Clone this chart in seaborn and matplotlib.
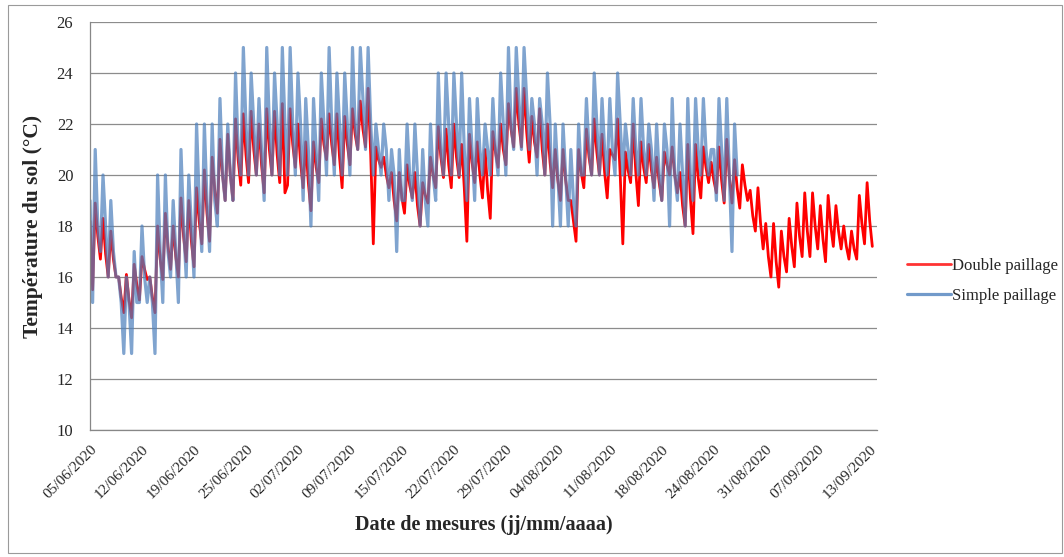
import numpy as np
import pandas as pd
import matplotlib
matplotlib.use("Agg")
import matplotlib.pyplot as plt
import seaborn as sns
from matplotlib.patches import Rectangle

# 3 relevés par jour : matin, midi, soir (jours 1..100), plus un point de départ et un de fin
tick_labels = ["05/06/2020", "12/06/2020", "19/06/2020", "25/06/2020", "02/07/2020",
               "09/07/2020", "15/07/2020", "22/07/2020", "29/07/2020", "04/08/2020",
               "11/08/2020", "18/08/2020", "24/08/2020", "31/08/2020", "07/09/2020",
               "13/09/2020"]

# Double paillage (rouge)
double_start = 18.2
double_matin = [15.5, 16.7, 16.0, 16.0, 14.6, 14.4, 15.1, 15.9, 14.6, 15.9,
                16.3, 16.0, 16.6, 16.4, 17.3, 17.4, 18.5, 19.0, 19.0, 19.6,
                19.7, 20.0, 19.3, 20.0, 19.7, 19.6, 20.3, 19.5, 18.6, 19.7,
                20.6, 20.4, 19.5, 20.4, 21.0, 21.1, 17.3, 20.3, 19.5, 18.2,
                18.5, 19.1, 18.0, 18.9, 19.5, 19.9, 19.5, 19.9, 17.4, 19.7,
                19.1, 18.3, 20.3, 20.4, 21.1, 21.1, 20.5, 20.7, 20.0, 19.5,
                19.0, 19.0, 17.4, 19.5, 20.0, 20.0, 19.1, 20.6, 17.3, 19.7,
                18.8, 19.7, 19.5, 19.0, 20.0, 19.3, 18.0, 17.7, 19.1, 19.7,
                19.3, 18.9, 18.9, 18.7, 19.0, 17.8, 17.1, 16.0, 15.6, 16.2,
                16.4, 16.8, 16.8, 17.1, 16.6, 17.2, 17.1, 16.7, 16.7, 17.3]
double_midi = [18.9, 18.3, 17.8, 16.0, 16.1, 16.5, 16.8, 16.0, 18.0, 18.5,
               18.0, 19.1, 19.0, 19.5, 20.2, 20.7, 21.4, 21.6, 22.2, 22.4,
               22.5, 22.0, 22.6, 22.5, 22.8, 22.6, 22.0, 21.3, 21.3, 22.2,
               22.4, 22.4, 22.3, 22.6, 22.9, 23.4, 21.1, 20.7, 20.1, 20.1,
               20.4, 20.1, 19.7, 20.7, 21.9, 21.8, 22.0, 21.2, 21.6, 21.3,
               21.0, 21.7, 22.0, 22.8, 23.4, 23.4, 22.3, 22.6, 22.0, 21.0,
               21.0, 19.0, 21.0, 21.8, 22.2, 21.6, 21.0, 22.2, 20.9, 22.0,
               21.3, 21.2, 20.7, 20.9, 21.1, 20.1, 21.2, 21.2, 21.1, 20.5,
               21.1, 21.4, 20.6, 20.4, 19.4, 19.5, 18.1, 18.1, 17.8, 18.3,
               18.9, 19.3, 19.3, 18.8, 19.2, 18.8, 18.0, 17.8, 19.2, 19.7]
double_soir = [17.6, 16.9, 16.7, 15.2, 15.1, 15.7, 16.3, 15.2, 16.7, 17.2,
               16.8, 17.6, 17.4, 18.2, 18.5, 19.4, 20.0, 20.0, 20.6, 20.8,
               21.0, 20.4, 21.0, 20.8, 19.3, 21.2, 20.5, 19.7, 20.3, 21.2,
               21.2, 20.7, 21.2, 21.6, 21.8, 20.8, 20.6, 20.0, 19.0, 19.1,
               19.6, 18.8, 19.2, 20.0, 20.7, 20.4, 20.7, 19.5, 20.5, 20.0,
               19.4, 20.9, 21.0, 21.8, 22.0, 21.7, 21.3, 21.0, 20.5, 19.8,
               19.8, 18.2, 20.1, 20.7, 20.9, 20.1, 20.8, 20.0, 20.2, 20.1,
               20.3, 20.2, 19.7, 20.4, 20.0, 18.8, 19.1, 19.9, 20.3, 19.8,
               19.8, 19.9, 19.5, 19.6, 18.4, 18.1, 16.8, 16.6, 16.8, 17.2,
               17.6, 17.8, 18.0, 17.5, 18.0, 17.8, 17.2, 17.1, 18.1, 18.2]
double_end = 17.2

# Simple paillage (bleu), jours 1..83
simple_start = 19
simple_matin = [15, 17, 16, 16, 13, 13, 15, 15, 13, 15,
                16, 15, 16, 16, 17, 17, 18, 19, 19, 20,
                20, 20, 19, 20, 20, 20, 20, 19, 18, 19,
                20, 20, 20, 20, 21, 21, 20, 20, 19, 17,
                19, 19, 18, 18, 19, 20, 20, 20, 19, 19,
                20, 20, 20, 20, 21, 21, 21, 20, 20, 18,
                18, 18, 18, 20, 20, 20, 20, 20, 20, 20,
                20, 20, 19, 19, 18, 19, 18, 19, 20, 20,
                19, 19, 17]
simple_midi = [21, 20, 19, 16, 16, 17, 18, 16, 20, 20,
               19, 21, 20, 22, 22, 22, 23, 22, 24, 25,
               24, 23, 25, 24, 25, 25, 24, 23, 23, 24,
               25, 24, 24, 25, 25, 25, 22, 22, 21, 21,
               22, 22, 21, 22, 24, 24, 24, 24, 23, 23,
               22, 23, 24, 25, 25, 25, 23, 23, 24, 22,
               22, 21, 22, 23, 24, 23, 23, 24, 22, 23,
               23, 22, 22, 22, 23, 22, 23, 23, 23, 21,
               23, 23, 22]
simple_soir = [18, 18, 17, 15, 15, 15, 16, 15, 17, 17,
               17, 18, 18, 19, 19, 19, 20, 20, 21, 22,
               22, 21, 22, 22, 22, 22, 22, 21, 21, 22,
               22, 22, 22, 22, 23, 22, 21, 21, 20, 19,
               20, 20, 19, 20, 21, 22, 22, 21, 21, 21,
               21, 21, 22, 22, 23, 23, 22, 22, 22, 20,
               20, 19, 20, 21, 22, 21, 21, 22, 21, 21,
               21, 21, 20, 21, 20, 20, 20, 21, 21, 21,
               21, 20, 20]


def build(start, matin, midi, soir, end=None):
    vals = [start]
    for m, n, s in zip(matin, midi, soir):
        vals += [m, n, s]
    if end is not None:
        vals.append(end)
    return pd.DataFrame({"idx": np.arange(len(vals)), "temp": vals})


df_double = build(double_start, double_matin, double_midi, double_soir, double_end)
df_simple = build(simple_start, simple_matin, simple_midi, simple_soir)

sns.set_style("white")
plt.rcParams["font.family"] = ["Liberation Serif", "DejaVu Serif"]

fig = plt.figure(figsize=(10.64, 5.57), dpi=100)
ax = fig.add_axes([0.0846, 0.228, 0.7394, 0.7325])

sns.lineplot(data=df_double, x="idx", y="temp", ax=ax, color="#FF0000",
             linewidth=2.0, label="Double paillage")
sns.lineplot(data=df_simple, x="idx", y="temp", ax=ax, color="#4F81BD",
             alpha=0.72, linewidth=2.3, label="Simple paillage")

ax.set_ylim(10, 26)
ax.set_yticks(range(10, 27, 2))
ax.set_xlim(0, 302.7)
ax.set_xticks(np.arange(0, 20 * len(tick_labels), 20))
ax.set_xticklabels(tick_labels, rotation=45, ha="right", rotation_mode="anchor",
                   fontsize=11)
ax.tick_params(axis="y", labelsize=12, length=0, pad=12)
ax.tick_params(axis="x", direction="inout", length=8, width=0.8, color="#878787",
               pad=5)
ax.grid(axis="y", color="#8C8C8C", linewidth=0.9)
ax.set_axisbelow(True)
for s in ["top", "right"]:
    ax.spines[s].set_visible(False)
for s in ["left", "bottom"]:
    ax.spines[s].set_color("#878787")
    ax.spines[s].set_linewidth(0.9)

ax.set_xlabel("Date de mesures (jj/mm/aaaa)", fontsize=14.5, fontweight="bold",
              labelpad=10)
ax.set_ylabel("Température du sol (°C)", fontsize=15.5, fontweight="bold",
              labelpad=10)

leg = ax.legend(loc="center left", bbox_to_anchor=(1.02, 0.365), frameon=False,
                fontsize=12, handlelength=2.6, handletextpad=0.1, labelspacing=0.85)
for h in leg.get_lines():
    h.set_alpha(0.8)

fig.patches.append(Rectangle((8 / 1064, 4 / 557), 1054 / 1064, 548 / 557,
                             transform=fig.transFigure, fill=False,
                             edgecolor="#9A9A9A", linewidth=0.8))

fig.savefig("out.png", dpi=100)
